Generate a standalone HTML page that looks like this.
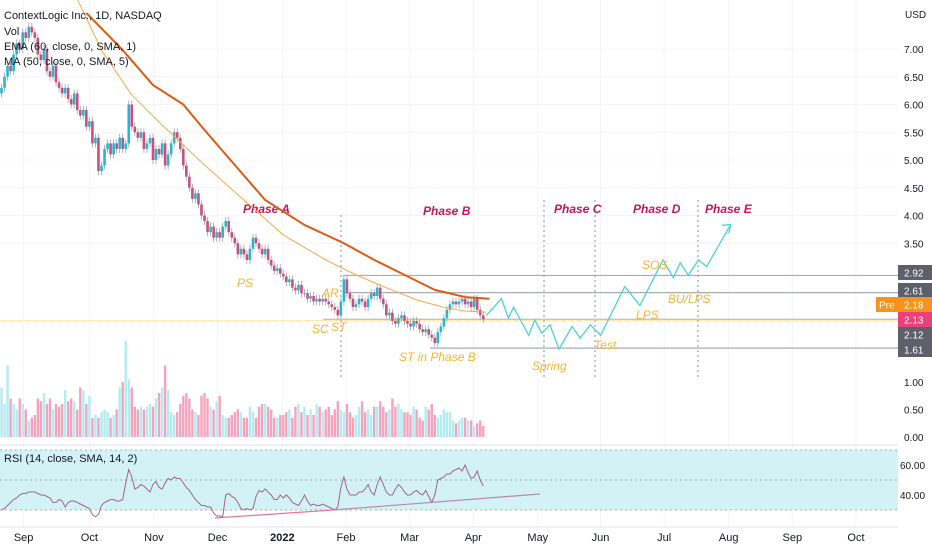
<!DOCTYPE html>
<html><head><meta charset="utf-8">
<style>
html,body{margin:0;padding:0;background:#fff;}
svg{display:block;font-family:"Liberation Sans",sans-serif;}
</style></head>
<body>
<svg id="chart" width="932" height="550" viewBox="0 0 932 550" xmlns="http://www.w3.org/2000/svg">
<g id="grid"></g>
<g id="overlay"></g>
<g id="vol"></g>
<g id="candles"></g>
<g id="mas"></g>
<g id="rsi"></g>
<g id="axes"></g>
<g id="labels">
<text x="4" y="19" font-size="11" fill="#131722">ContextLogic Inc., 1D, NASDAQ</text>
<text x="4" y="35" font-size="11" fill="#131722">Vol</text>
<text x="4" y="50" font-size="11" fill="#131722">EMA (60, close, 0, SMA, 1)</text>
<text x="4" y="65" font-size="11" fill="#131722">MA (50, close, 0, SMA, 5)</text>
<text x="4" y="462" font-size="11" fill="#131722">RSI (14, close, SMA, 14, 2)</text>
</g>
</svg>
<script>
const closes=[6.3,6.5,6.7,6.6,6.9,7.1,7.0,7.3,7.2,7.4,
7.3,7.2,6.9,6.8,7.0,6.6,6.5,6.7,6.4,6.3,
6.2,6.3,6.1,6.0,6.2,5.9,5.8,5.9,5.6,5.7,
5.3,5.4,4.8,4.9,5.2,5.3,5.1,5.3,5.2,5.4,
5.2,5.3,6.0,5.6,5.5,5.4,5.5,5.2,5.3,5.4,
5.0,5.2,5.1,5.3,4.9,5.1,5.3,5.5,5.4,5.2,
4.9,4.7,4.5,4.3,4.4,4.2,4.0,3.9,3.7,3.8,
3.6,3.7,3.6,3.8,3.9,3.7,3.6,3.5,3.3,3.4,
3.3,3.2,3.4,3.6,3.5,3.4,3.3,3.4,3.2,3.1,
3.0,3.05,2.95,2.9,2.8,2.85,2.7,2.65,2.75,2.6,
2.6,2.5,2.55,2.45,2.5,2.45,2.5,2.45,2.4,2.35,
2.3,2.2,2.45,2.85,2.6,2.5,2.35,2.4,2.5,2.45,
2.35,2.5,2.6,2.55,2.7,2.5,2.4,2.2,2.25,2.1,
2.05,2.15,2.2,2.1,2.05,2.0,2.1,2.05,1.95,1.9,
1.95,1.85,1.8,1.7,1.9,2.0,2.15,2.3,2.4,2.45,
2.4,2.45,2.5,2.4,2.45,2.35,2.5,2.3,2.2,2.13];
const volumes=[0.9,0.6,1.3,0.7,0.6,0.5,0.7,0.6,0.5,0.3,
0.35,0.4,0.7,0.65,0.8,0.6,0.7,0.5,0.6,0.55,
0.6,0.85,0.65,0.7,0.65,0.5,0.9,0.85,0.6,0.75,
0.35,0.4,0.35,0.45,0.5,0.45,0.35,0.4,0.5,0.9,
1.0,1.75,1.05,0.9,0.55,0.5,0.55,0.5,0.55,0.6,
0.55,0.7,0.8,0.9,1.3,0.85,0.45,0.4,0.45,0.6,
0.75,0.8,0.7,0.5,0.45,0.4,0.75,0.8,0.7,0.55,
0.5,0.65,0.75,0.4,0.35,0.35,0.4,0.45,0.5,0.45,
0.35,0.35,0.55,0.45,0.35,0.55,0.6,0.6,0.55,0.5,
0.35,0.35,0.4,0.4,0.45,0.5,0.35,0.55,0.6,0.45,
0.55,0.4,0.5,0.4,0.6,0.55,0.45,0.5,0.55,0.4,
0.5,0.65,0.5,0.45,0.6,0.45,0.35,0.4,0.55,0.65,
0.45,0.5,0.4,0.55,0.55,0.65,0.55,0.45,0.5,0.7,
0.55,0.6,0.5,0.45,0.45,0.4,0.55,0.5,0.35,0.3,
0.55,0.5,0.6,0.4,0.35,0.4,0.5,0.45,0.45,0.3,
0.25,0.3,0.35,0.35,0.3,0.3,0.2,0.25,0.3,0.2];
const rsiValues=[30,31,33,35,37,38,40,41,41,42,
42,42,41,40,40,39,38,35,35,37,
36,32,35,36,36,35,34,33,32,31,
27,25.5,27,33,35,36,37,37,36,36,
37,48,57,52,44,45,47,46,44,42,
47,49,45,44,48,51,50,52,51,51,
48,45,43,40,37,35,33,33,32,32,
28,26,26,25.5,40,41,39,38,35,31,
30,31,30,31,39,43,42,44,42,40,
37,37,40,38,40,38,35,34,33,36,
40,36,33,34,33,33,34,33,32,31,
30,32,45,52,44,40,40,40,42,42,
44,47,42,40,47,52,47,42,40,40,
44,47,45,42,40,40,42,43,41,40,
43,39,35,40,50,51,52,54,54,56,
57,58,56,60,55,51,52,56,50,46];
const emaBars=[28,40,50,60,67,77,87,100,113,123,133,143,153,161];
const emaValues=[7.65,6.98,6.35,6.0,5.54,4.91,4.28,3.83,3.5,3.2,2.93,2.66,2.53,2.5];
const maBars=[25,33,43,53,67,80,93,107,117,127,137,147,153,160];
const maValues=[7.9,6.98,6.17,5.63,4.91,4.28,3.65,3.2,2.93,2.7,2.48,2.33,2.28,2.26];
const pathBars=[160,165,167.3,169,174,176,178.3,181,184,188.3,191,194.3,197.7,205.7,210.7,218.3,221.7,224,226.7,230,232.7,240.7];
const pathPrices=[2.2,2.5,2.15,2.35,1.84,2.12,1.88,2.03,1.59,2.0,1.79,2.03,1.84,2.72,2.38,3.2,2.88,3.15,2.92,3.2,3.08,3.84];
const levels=[2.92,2.61,2.13,1.61];
const priceTicks=[7.0,6.5,6.0,5.5,5.0,4.5,4.0,3.5];
const volTicks=[1.0,0.5,0.0];
const rsiTicks=[60,40];
const months=["Sep","Oct","Nov","Dec","2022","Feb","Mar","Apr","May","Jun","Jul","Aug","Sep","Oct"];
const monthBars=[7.3,29,50.3,71.3,92.7,113.7,134.7,155.7,177,197.7,218.7,240,261,282];

const NS="http://www.w3.org/2000/svg";
const X=i=>1.5+i*3.03;
const Y=p=>49+(7-p)*55.5;
const VY=v=>437-v*55;
const RY=r=>480-(r-50)*1.5;
function mk(parent,tag,attrs){const e=document.createElementNS(NS,tag);for(const k in attrs)e.setAttribute(k,attrs[k]);document.getElementById(parent).appendChild(e);return e;}

monthBars.forEach((b,i)=>{const l=mk('grid','line',{x1:X(b),x2:X(b),y1:0,y2:527,stroke:'#f3f4f7','stroke-width':1});

});
priceTicks.forEach(p=>{const l=mk('grid','line',{x1:0,x2:898,y1:Y(p),y2:Y(p),stroke:'#f3f4f7'});

});

const band=mk('rsi','rect',{x:0,y:RY(70),width:898,height:RY(30)-RY(70),fill:'#d3f2f5'});


[70,50,30].forEach(v=>{const l=mk('rsi','line',{x1:0,x2:898,y1:RY(v),y2:RY(v),stroke:'#8a9aa8','stroke-dasharray':'2,3','stroke-width':0.8});

});
const rl=mk('rsi','polyline',{points:rsiValues.map((r,i)=>X(i)+','+RY(r)).join(' '),fill:'none',stroke:'#a0668f','stroke-width':1});


const d1=mk('rsi','line',{x1:215,y1:518,x2:333,y2:510,stroke:'#e8759f','stroke-width':1.2});


const d2=mk('rsi','line',{x1:333,y1:510,x2:540,y2:494,stroke:'#b98aa6','stroke-width':1.2});



const s1=mk('axes','line',{x1:0,x2:932,y1:445,y2:445,stroke:'#e0e3eb'});


const s2=mk('axes','line',{x1:0,x2:932,y1:527,y2:527,stroke:'#e0e3eb'});



levels.forEach((p,i)=>{const x1=[343,343,323,430][i];const l=mk('overlay','line',{x1:x1,x2:898,y1:Y(p),y2:Y(p),stroke:i==2?'#b8bcc6':'#a8acb5','stroke-width':1.2});

});
const pre=mk('overlay','line',{x1:0,x2:898,y1:Y(2.18)+4,y2:Y(2.18)+4,stroke:'#f9d9a8','stroke-width':1,'stroke-dasharray':'1,1'});


[[341,215],[544,200],[595,200],[698,200]].forEach(v=>{const l=mk('overlay','line',{x1:v[0],x2:v[0],y1:v[1],y2:380,stroke:'#8a8e99','stroke-dasharray':'2,3'});

});
const pp=mk('overlay','polyline',{points:pathBars.map((b,i)=>X(b)+','+Y(pathPrices[i])).join(' '),fill:'none',stroke:'#4fd0dc','stroke-width':1.3});


const n=pathBars.length;const ax=X(pathBars[n-1]),ay=Y(pathPrices[n-1]);
const ah=mk('overlay','polyline',{points:(ax-9)+','+(ay+1)+' '+ax+','+ay+' '+(ax-2)+','+(ay+9),fill:'none',stroke:'#4fd0dc','stroke-width':1.3});



const phases=[["Phase A",243,213],["Phase B",423,215],["Phase C",554,213],["Phase D",633,213],["Phase E",705,213]];
phases.forEach(t=>{const e=mk('overlay','text',{x:t[1],y:t[2],'font-size':12,'font-style':'italic','font-weight':'bold',fill:'#c2185b'});e.textContent=t[0];

});
const ev=[["PS",237,287],["AR",322,297],["SC",312,333],["ST",331,331],["ST in Phase B",399,361],["Spring",532,370],["Test",594,349],["LPS",636,319],["SOS",642,269],["BU/LPS",668,303]];
ev.forEach(t=>{const e=mk('overlay','text',{x:t[1],y:t[2],'font-size':12,'font-style':'italic',fill:'#f5b52e'});e.textContent=t[0];

});

volumes.forEach((v,i)=>{const up=i==0?true:closes[i]>=closes[i-1];const r=mk('vol','rect',{x:X(i)-1.2,y:VY(v),width:2.4,height:v*55,fill:up?'#b2ebf2':'#f4a3bd'});

});

closes.forEach((c,i)=>{const o=i==0?c-0.1:closes[i-1];const up=c>=o;const col=up?'#29b6cc':'#c8507c';
const hi=Math.max(o,c),lo=Math.min(o,c);
const w=mk('candles','line',{x1:X(i),x2:X(i),y1:Y(hi)-4,y2:Y(lo)+4,stroke:'#9aa0aa','stroke-width':0.8});


const b=mk('candles','rect',{x:X(i)-1.3,y:Y(hi),width:2.6,height:Math.max(1,Y(lo)-Y(hi)),fill:col});

});

const ema=mk('mas','polyline',{points:emaBars.map((b,i)=>X(b)+','+Y(emaValues[i])).join(' '),fill:'none',stroke:'#de5a13','stroke-width':2,'stroke-linejoin':'round'});


const ma=mk('mas','polyline',{points:maBars.map((b,i)=>X(b)+','+Y(maValues[i])).join(' '),fill:'none',stroke:'#f5a94a','stroke-width':1,'stroke-linejoin':'round'});



const ra=mk('axes','rect',{x:898,y:0,width:34,height:550,fill:'#fff'});


const usd=mk('axes','text',{x:905,y:18,'font-size':10,fill:'#131722'});usd.textContent='USD';


priceTicks.forEach(p=>{const t=mk('axes','text',{x:904,y:Y(p)+4,'font-size':10,fill:'#131722'});t.textContent=p.toFixed(2);

});
volTicks.forEach(v=>{const t=mk('axes','text',{x:904,y:VY(v)+4,'font-size':10,fill:'#131722'});t.textContent=v.toFixed(2);

});
rsiTicks.forEach(v=>{const t=mk('axes','text',{x:900,y:RY(v)+4,'font-size':10,fill:'#131722'});t.textContent=v.toFixed(2);

});
const boxes=[["2.92",265,'#5d606b'],["2.61",283,'#5d606b'],["2.18",297,'#f7931a'],["2.13",312,'#ec407a'],["2.12",327,'#5d606b'],["1.61",342,'#5d606b']];
boxes.forEach(bx=>{const r=mk('axes','rect',{x:898,y:bx[1],width:34,height:15,fill:bx[2]});


const t=mk('axes','text',{x:904,y:bx[1]+11.5,'font-size':10,fill:'#fff'});t.textContent=bx[0];

});
const pr=mk('axes','rect',{x:876,y:297,width:22,height:15,fill:'#f7931a'});


const pt=mk('axes','text',{x:879,y:308.5,'font-size':10,fill:'#fff'});pt.textContent='Pre';



months.forEach((m,i)=>{const t=mk('axes','text',{x:X(monthBars[i]),y:541,'font-size':11,fill:'#131722','text-anchor':'middle','font-weight':m=="2022"?'bold':'normal'});t.textContent=m;

});
</script>
</body></html>
